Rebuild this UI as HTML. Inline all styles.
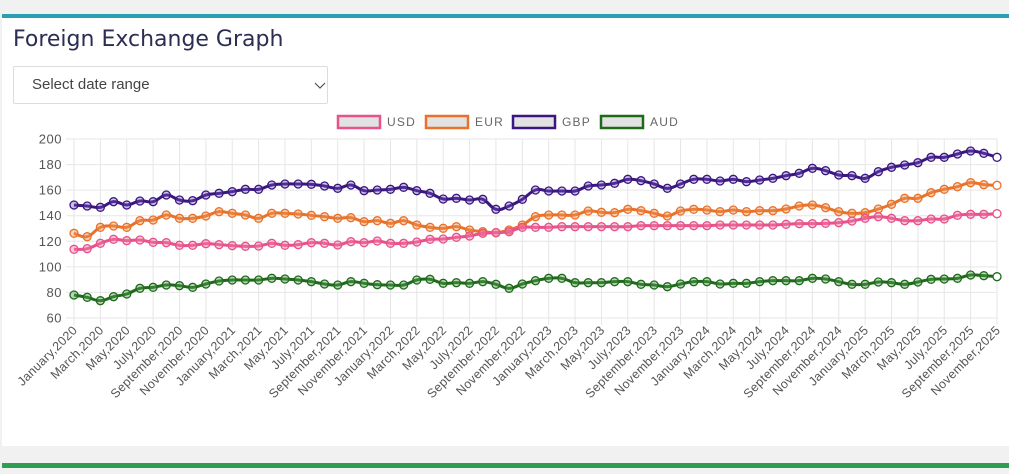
<!DOCTYPE html>
<html><head><meta charset="utf-8"><style>
body{margin:0;width:1009px;height:474px;background:#f1f1f1;overflow:hidden;font-family:"Liberation Sans",sans-serif;position:relative}
.card{position:absolute;left:2px;top:14px;width:1007px;height:432px;background:#fff;border-top:4px solid #2a9fb1;box-sizing:border-box}
.green{position:absolute;left:2px;top:463px;width:1007px;height:5px;background:#2f9e50}
h1{position:absolute;left:13px;top:27px;margin:0;font-weight:normal;font-size:22px;color:#2b2d52;font-family:"DejaVu Sans","Liberation Sans",sans-serif;letter-spacing:0px}
.sel{position:absolute;left:13px;top:66px;width:315px;height:38px;border:1px solid #dcdcdc;box-sizing:border-box;border-radius:2px}
.sel span{position:absolute;left:18px;top:9px;font-size:15px;color:#444}
svg{position:absolute;left:0;top:0}
</style></head><body>
<div class="card"></div><div class="green"></div>
<h1>Foreign Exchange Graph</h1>
<div class="sel"><span>Select date range</span><svg style="left:300px;top:15px" width="12" height="8"><path d="M1 1 L6 6 L11 1" stroke="#555" fill="none" stroke-width="1.2"/></svg></div>
<svg id="c" width="1009" height="474"></svg>
<script>
const ns="http://www.w3.org/2000/svg",S=document.getElementById('c');
function el(t,a,txt){const e=document.createElementNS(ns,t);for(const k in a)e.setAttribute(k,a[k]);if(txt)e.textContent=txt;S.appendChild(e);return e;}
const X0=74,DX=923/70,Y=v=>139+(200-v)*179/140;
for(let v=60;v<=200;v+=20){el('line',{x1:66,x2:997,y1:Y(v),y2:Y(v),stroke:'#e6e6e6'});el('text',{x:62,y:Y(v)+4.5,'text-anchor':'end','font-size':13,fill:'#555','letter-spacing':'0.5'},v);}
const M=['January','March','May','July','September','November'];
for(let i=0;i<=70;i+=2){const x=X0+i*DX;el('line',{x1:x,x2:x,y1:139,y2:325,stroke:'#e6e6e6'});
const y=2020+Math.floor(i/12),lab=M[(i%12)/2]+','+y;
el('text',{x:0,y:0,transform:`translate(${x+4},${331}) rotate(-45)`,'text-anchor':'end','font-size':12.5,fill:'#555','letter-spacing':'0.3'},lab);}
function mk(A,B,C,D){const r=[];A.concat(B,C).forEach(z=>r.push(130+z/3));D.forEach(z=>r.push(110+z/3));return r;}
const ser=[
['#3a1680','rgba(120,90,190,0.35)',mk([225,228,232,215,225,213,215,195,210,212,195,190,185,178,178,165,162,162,163,168,175,165,182,180,178],[172,182,190,207,205,210,208,238,228,208,180,183,183,183,168,165,160,148,152,162,175,162,148,148],[153,148,155],[210,205,197,190,175,182,195,197,205,185,172,165,158,142,142,132,123,130,142])],
['#e8722a','rgba(240,150,90,0.4)',mk([310,320,292,288,292,272,270,255,265,265,258,245,250,255,265,250,250,252,256,260,265,263,275,272,280],[272,285,292,295,290,300,305,308,300,285,260,255,255,255,243,247,248,238,242,250,258,243,238,240],[245,240,245],[302,302,297,288,285,293,305,310,308,297,283,265,265,248,238,230,218,224,226])],
['#e8518a','rgba(240,130,170,0.4)',mk([358,356,340,328,332,330,337,338,346,346,341,344,347,349,348,340,346,344,338,340,345,335,338,333,340],[340,336,328,327,322,318,310,308,305,292,292,292,290,290,290,290,290,290,287,287,287,287,287,287],[285,285,285],[345,345,343,341,341,340,338,333,325,320,325,332,332,327,327,316,313,313,311])],
['#1e6a1a','rgba(90,160,90,0.4)',mk([495,502,512,500,492,475,472,465,467,472,462,453,450,450,450,445,447,450,455,462,465,455,460,464,465],[465,450,448,460,458,460,455,463,475,462,452,445,445,458,458,458,455,455,463,465,470,462,455,455],[462,460,460],[515,512,512,512,505,507,515,523,523,516,518,523,516,508,507,505,495,497,500])]];
ser.forEach(([c,f,ys])=>{const p=ys.map((y,i)=>[X0+i*DX,y]);let d='M'+p[0].join(',');
for(let i=0;i<p.length-1;i++){const a=p[i-1]||p[i],b=p[i],q=p[i+1],e=p[i+2]||q,t=0.2;
d+=`C${b[0]+(q[0]-a[0])*t},${b[1]+(q[1]-a[1])*t} ${q[0]-(e[0]-b[0])*t},${q[1]-(e[1]-b[1])*t} ${q[0]},${q[1]}`;}
el('path',{d,stroke:c,'stroke-width':3,fill:'none'});
p.forEach(([x,y],i)=>el('circle',{cx:x,cy:y,r:4,fill:i==p.length-1?'#fff':f,stroke:c,'stroke-width':1.3}));});
[['USD','#e8518a',337],['EUR','#e8722a',425],['GBP','#3a1680',512],['AUD','#1e6a1a',600]].forEach(([n,c,x])=>{
el('rect',{x:x+1,y:116,width:42,height:12,fill:'#e2e2e2',stroke:c,'stroke-width':2.5});
el('text',{x:x+50,y:126,'font-size':12,fill:'#666','letter-spacing':'1.2'},n);});
</script>
</body></html>
